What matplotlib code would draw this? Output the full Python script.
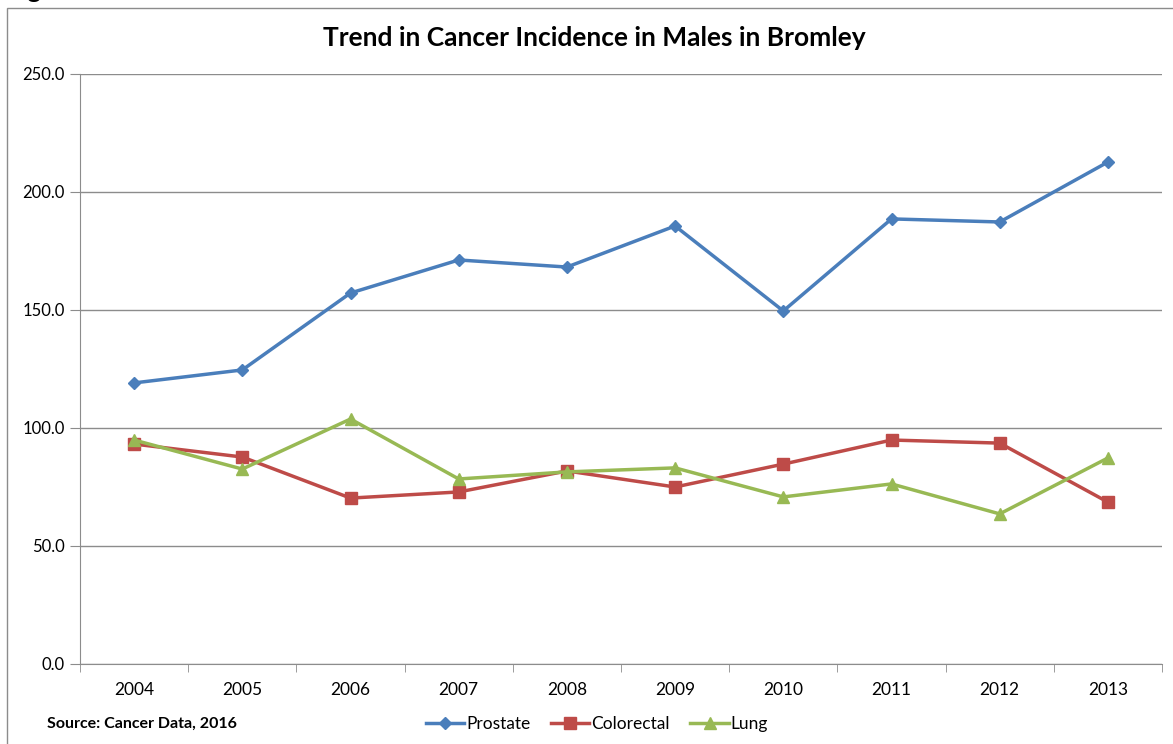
import numpy as np
import matplotlib
matplotlib.use("Agg")
import matplotlib.pyplot as plt
from matplotlib.patches import Rectangle

# ----- data
years = ["2004", "2005", "2006", "2007", "2008", "2009", "2010", "2011", "2012", "2013"]
prostate = [119.1, 124.6, 157.2, 171.2, 168.2, 185.6, 149.6, 188.6, 187.3, 212.7]
colorectal = [93.2, 87.7, 70.3, 72.9, 81.8, 75.0, 84.7, 94.9, 93.6, 68.6]
lung = [94.9, 82.6, 103.8, 78.4, 81.4, 83.1, 70.8, 76.3, 63.6, 87.3]
yticks = [0, 50, 100, 150, 200, 250]

plt.rcParams['font.family'] = ['Lato', 'DejaVu Sans']

W, H = 1173, 744
fig = plt.figure(figsize=(W/100, H/100), dpi=100)
ax = fig.add_axes([80/W, 1-664/H, (1162-80)/W, (664-74)/H])

x = np.arange(len(years))
ax.plot(x, prostate, color='#4A7EBB', lw=2.5, marker='D', ms=6.5, label='Prostate')
ax.plot(x, colorectal, color='#BE4B48', lw=2.5, marker='s', ms=8, label='Colorectal')
ax.plot(x, lung, color='#98B954', lw=2.5, marker='^', ms=8.5, label='Lung')

ax.set_xlim(-0.5, len(years)-0.5)
ax.set_ylim(0, 250)
ax.set_yticks(yticks)
ax.set_yticklabels(["%.1f" % v for v in yticks], fontsize=12)
ax.yaxis.grid(True, color='#8c8c8c', lw=1)
ax.set_axisbelow(True)

ax.set_xticks(x)
ax.set_xticklabels(years, fontsize=12.5)
ax.set_xticks(np.arange(-0.5, len(years)), minor=True)
ax.tick_params(axis='x', which='major', length=0, pad=13)
ax.tick_params(axis='x', which='minor', length=6, color='#8c8c8c', direction='out')
ax.tick_params(axis='y', length=7, color='#8c8c8c', pad=4)

for s in ['top', 'right']:
    ax.spines[s].set_visible(False)
for s in ['left', 'bottom']:
    ax.spines[s].set_color('#8c8c8c')

fig.text(594/W, 1-38/H, "Trend in Cancer Incidence in Males in Bromley",
         ha='center', va='center', fontsize=19, fontweight='bold')
fig.text(47/W, 1-724/H, "Source: Cancer Data, 2016", ha='left', va='center',
         fontsize=11.5, fontweight='bold')
fig.text(7/W, 1+2/H, "Figure 3", ha='left', va='baseline', fontsize=18, fontweight='bold')

ax.legend(loc='center', bbox_to_anchor=(597/W, 1-724/H), bbox_transform=fig.transFigure,
          ncol=3, frameon=False, fontsize=12.5, handlelength=2.2, handletextpad=0.1,
          columnspacing=1.2)

fig.patches.append(Rectangle((7/W, -0.1), 1.2, 1-8/H+0.1, transform=fig.transFigure,
                             fill=False, edgecolor='#8c8c8c', lw=1))

fig.savefig("out.png", dpi=100)
